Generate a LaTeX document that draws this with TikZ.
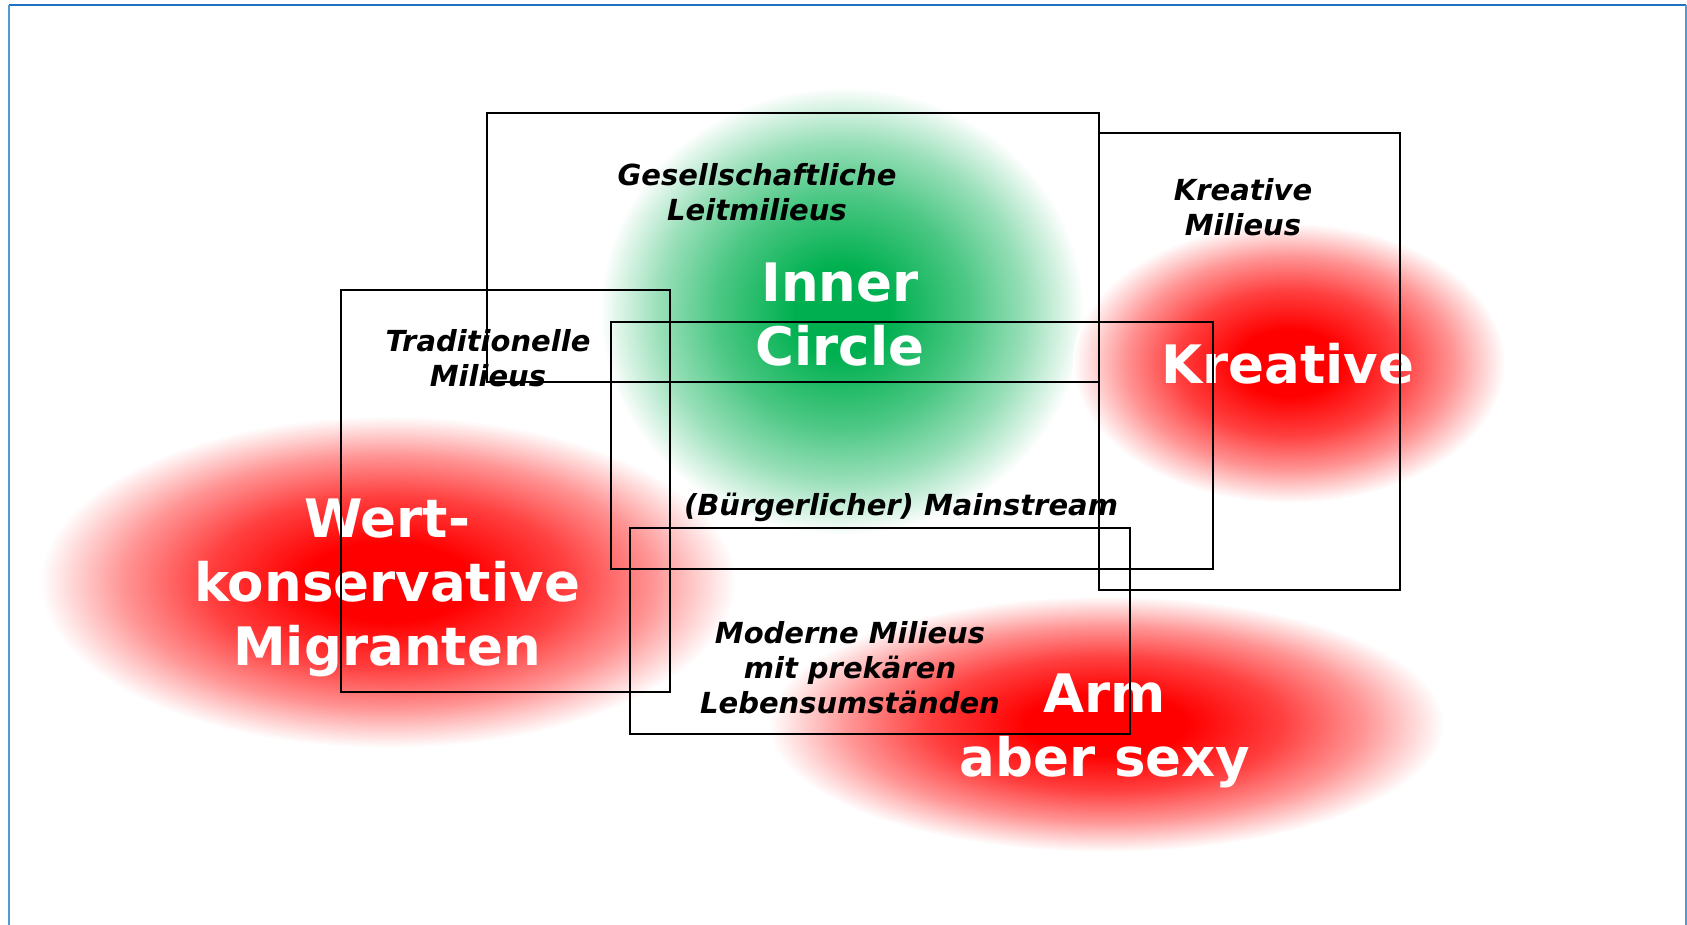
\documentclass[tikz,border=0pt]{standalone}
\usepackage{fontspec}
\setmainfont{DejaVu Sans}
\usetikzlibrary{shapes.geometric}

\definecolor{innergreen}{RGB}{0,176,80}
\definecolor{frameblue}{RGB}{30,112,192}
\definecolor{framelight}{RGB}{80,156,216}

\pgfdeclareradialshading{redblob}{\pgfpoint{0bp}{0bp}}{color(0bp)=(red); color(6bp)=(red); color(13bp)=(red!75); color(19bp)=(red!42); color(23bp)=(red!14); color(25bp)=(white); color(50bp)=(white)}
\pgfdeclareradialshading{greenblob}{\pgfpoint{0bp}{0bp}}{color(0bp)=(innergreen); color(5bp)=(innergreen); color(13bp)=(innergreen!70); color(19bp)=(innergreen!40); color(23bp)=(innergreen!14); color(25bp)=(white); color(50bp)=(white)}

\begin{document}
\begin{tikzpicture}[
      x=0.5pt, y=-0.5pt,
      box/.style={draw=black, line width=1pt},
      frametop/.style={draw=frameblue, line width=1pt},
      frameside/.style={draw=framelight, line width=1pt},
      milieu/.style={font=\fontsize{14.5}{17.5}\selectfont\bfseries\itshape, align=center, inner sep=0pt},
      blobtext/.style={font=\fontsize{26.5}{32}\selectfont\bfseries, text=white, align=center, inner sep=0pt}
    ]

    \useasboundingbox (0,0) rectangle (1687,925);

    % Draw frame
    \draw[frametop] (9,5) -- (1686,5);
    \draw[frameside] (9,5) -- (9,925);
    \draw[frameside] (1686,5) -- (1686,925);

    % Draw blobs
    \shade[shading=greenblob] (842,311) ellipse (242 and 224);
    \shade[shading=redblob] (1289,363) ellipse (216 and 140);
    \shade[shading=redblob] (388,582) ellipse (348 and 166);
    \shade[shading=redblob] (1106,724) ellipse (338 and 128);

    % Blob labels
    \node[blobtext] (inner) at (840,315) {Inner\\Circle};
    \node[blobtext, anchor=base] (kreative) at (1288,383) {Kreative};
    \node[blobtext] (wertkons) at (387,588) {Wert-\\konservative\\Migranten};
    \node[blobtext] (armsexy) at (1105,731) {Arm\\aber sexy};

    % Draw milieu boxes
    \draw[box] (487,113) rectangle (1099,382);
    \draw[box] (1099,133) rectangle (1400,590);
    \draw[box] (341,290) rectangle (670,692);
    \draw[box] (611,322) rectangle (1213,569);
    \draw[box] (630,528) rectangle (1130,734);

    % Milieu labels
    \node[milieu] (gesell) at (757,192) {Gesellschaftliche\\Leitmilieus};
    \node[milieu] (kreamil) at (1243,207) {Kreative\\Milieus};
    \node[milieu] (tradi) at (488,358) {Traditionelle\\Milieus};
    \node[milieu, anchor=base] (mainstream) at (901,515) {(Bürgerlicher) Mainstream};
    \node[milieu] (moderne) at (850,668) {Moderne Milieus\\mit prekären\\Lebensumständen};

  \end{tikzpicture}
\end{document}
